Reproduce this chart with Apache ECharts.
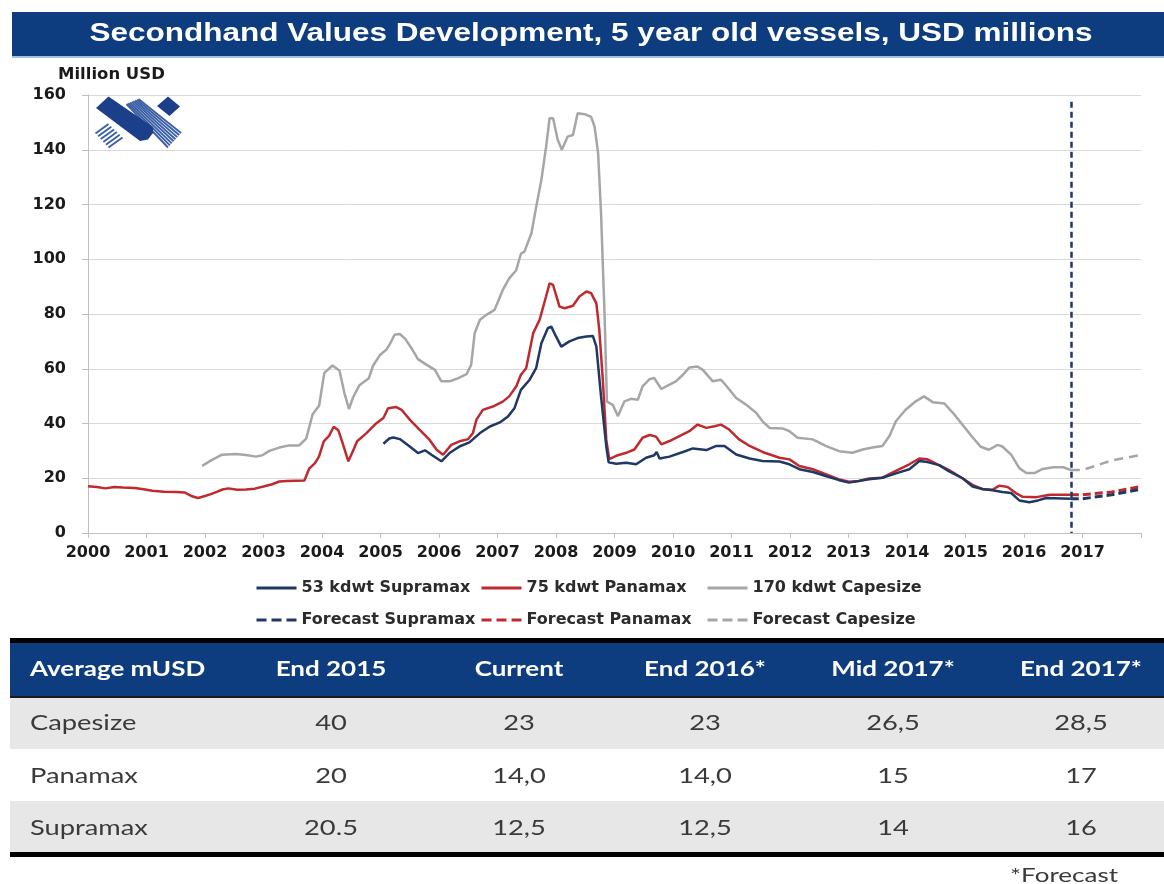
<!DOCTYPE html>
<html>
<head>
<meta charset="utf-8">
<script src="https://cdn.jsdelivr.net/npm/echarts@6/dist/echarts.min.js"></script>
<style>
  html, body { margin: 0; padding: 0; background: #ffffff; }
  #chart { width: 1164px; height: 884px; }
</style>
</head>
<body>
<div id="chart"></div>
<script>
// ---- Secondhand values, 5 year old vessels (USD millions), [year, value] ----
const capesize = [
  [2001.95,24.5],[2002.12,26.7],[2002.29,28.6],[2002.53,28.9],[2002.7,28.5],[2002.87,27.9],[2002.98,28.4],
  [2003.1,30],[2003.27,31.2],[2003.44,32],[2003.61,32],[2003.73,34.5],[2003.84,43.4],[2003.95,46.5],
  [2004.04,58.5],[2004.18,61.2],[2004.3,59.3],[2004.38,51.4],[2004.46,45.3],[2004.53,49.5],[2004.64,54],
  [2004.8,56.5],[2004.87,61],[2004.99,65],[2005.1,67],[2005.16,69],[2005.24,72.4],[2005.33,72.7],
  [2005.42,71],[2005.53,67.5],[2005.64,63.5],[2005.79,61.4],[2005.93,59.6],[2006.04,55.4],[2006.18,55.4],
  [2006.33,56.6],[2006.47,58],[2006.55,61.4],[2006.61,73],[2006.7,77.9],[2006.81,79.7],[2006.95,81.5],
  [2007.09,88.8],[2007.2,93],[2007.32,96],[2007.4,102],[2007.46,102.8],[2007.58,109.5],[2007.66,119],
  [2007.75,129],[2007.83,141],[2007.89,151.5],[2007.95,151.5],[2008.03,143.6],[2008.1,140],[2008.2,144.8],
  [2008.29,145.4],[2008.37,153.3],[2008.49,153],[2008.6,152],[2008.66,148.4],[2008.72,138.7],[2008.77,116.8],
  [2008.83,80],[2008.87,48],[2008.97,46.8],[2009.06,42.7],[2009.17,48.1],[2009.28,49],[2009.4,48.7],
  [2009.48,53.6],[2009.6,56.2],[2009.68,56.6],[2009.8,52.6],[2009.94,54.2],[2010.05,55.4],[2010.17,57.8],
  [2010.28,60.5],[2010.42,60.8],[2010.51,59.6],[2010.68,55.4],[2010.82,56],[2010.91,53.8],[2011.08,49.3],
  [2011.25,46.9],[2011.42,43.9],[2011.53,40.8],[2011.65,38.4],[2011.87,38.2],[2011.99,37.2],[2012.13,34.8],
  [2012.39,34.2],[2012.61,31.8],[2012.84,29.9],[2013.07,29.3],[2013.24,30.5],[2013.41,31.2],[2013.58,31.8],
  [2013.7,35.4],[2013.81,40.8],[2013.98,45.1],[2014.15,48.1],[2014.29,49.9],[2014.44,47.8],[2014.64,47.3],
  [2014.78,44],[2014.95,39.5],[2015.12,35],[2015.26,31.5],[2015.4,30.4],[2015.55,32.2],[2015.63,31.6],
  [2015.78,28.6],[2015.92,23.7],[2016.04,21.9],[2016.18,21.9],[2016.32,23.4],[2016.5,24],[2016.67,24],
  [2016.8,23]
];

const panamax = [
  [2000.0,17.1],[2000.15,16.8],[2000.3,16.3],[2000.45,16.8],[2000.6,16.6],[2000.8,16.4],[2000.95,16.0],
  [2001.1,15.4],[2001.3,15.1],[2001.5,15.0],[2001.65,14.8],[2001.78,13.4],[2001.88,12.8],[2002.0,13.5],
  [2002.1,14.2],[2002.2,15.0],[2002.3,15.9],[2002.4,16.3],[2002.55,15.8],[2002.7,15.9],[2002.85,16.2],
  [2003.0,17.0],[2003.15,17.8],[2003.27,18.8],[2003.4,19.0],[2003.55,19.1],[2003.7,19.2],[2003.78,23.5],
  [2003.88,25.5],[2003.95,28],[2004.03,33.5],[2004.12,35.5],[2004.2,38.8],[2004.28,37.5],[2004.35,33],
  [2004.45,26.2],[2004.52,29.5],[2004.6,33.5],[2004.76,36.5],[2004.93,40.1],[2005.05,42],[2005.13,45.6],
  [2005.27,46],[2005.36,45],[2005.5,41.4],[2005.67,37.7],[2005.84,34],[2005.96,30.4],[2006.07,28.6],
  [2006.21,32.2],[2006.35,33.5],[2006.5,34.3],[2006.58,36.5],[2006.64,41.4],[2006.75,45],[2006.92,46.2],
  [2007.09,48],[2007.2,49.9],[2007.32,53.5],[2007.4,57.8],[2007.49,60.2],[2007.61,73],[2007.72,77.9],
  [2007.83,86.4],[2007.89,91.2],[2007.95,90.6],[2008.06,82.7],[2008.15,82.1],[2008.29,83],[2008.4,86.4],
  [2008.52,88.2],[2008.6,87.6],[2008.69,83.9],[2008.74,74.2],[2008.8,56],[2008.86,34],[2008.91,27],
  [2009.03,28.2],[2009.2,29.3],[2009.34,30.5],[2009.48,34.8],[2009.6,35.8],[2009.71,35.2],[2009.8,32.4],
  [2009.94,33.6],[2010.11,35.4],[2010.28,37.2],[2010.42,39.6],[2010.57,38.4],[2010.71,39],[2010.82,39.6],
  [2010.96,37.8],[2011.13,34.2],[2011.31,31.8],[2011.53,29.6],[2011.82,27.5],[2011.99,26.9],[2012.16,24.5],
  [2012.39,23.3],[2012.61,21.5],[2012.84,19.6],[2013.01,18.7],[2013.18,19],[2013.35,19.9],[2013.58,20.2],
  [2013.81,22.7],[2014.04,25.1],[2014.21,27.2],[2014.35,26.9],[2014.52,25.1],[2014.72,23],[2014.94,20.1],
  [2015.12,17.6],[2015.29,16],[2015.46,15.8],[2015.58,17.3],[2015.72,16.8],[2015.86,14.6],[2015.98,13.2],
  [2016.21,13.1],[2016.44,14],[2016.8,14.0]
];

const supramax = [
  [2005.05,32.6],[2005.15,34.5],[2005.22,34.9],[2005.33,34.3],[2005.5,31.6],[2005.64,29.2],[2005.76,30.2],
  [2005.87,28.6],[2006.04,26.2],[2006.18,29.2],[2006.35,31.6],[2006.52,33.1],[2006.7,36.5],[2006.87,38.9],
  [2007.04,40.4],[2007.18,42.6],[2007.29,45.6],[2007.4,52.3],[2007.55,56],[2007.66,60.2],[2007.75,69.3],
  [2007.86,74.8],[2007.92,75.4],[2008.0,71.8],[2008.09,68.1],[2008.23,70],[2008.37,71.2],[2008.52,71.8],
  [2008.63,72],[2008.69,68.1],[2008.77,49.9],[2008.86,31.6],[2008.9,25.8],[2009.03,25.3],[2009.2,25.7],
  [2009.37,25.1],[2009.54,27.5],[2009.68,28.4],[2009.72,29.6],[2009.77,27.2],[2009.94,27.9],[2010.17,29.6],
  [2010.34,30.9],[2010.57,30.3],[2010.74,31.8],[2010.88,31.8],[2011.08,28.7],[2011.31,27.2],[2011.53,26.3],
  [2011.82,26.1],[2011.99,25.1],[2012.16,23.3],[2012.39,22.3],[2012.61,20.8],[2012.84,19.3],[2013.01,18.4],
  [2013.35,19.6],[2013.58,20.2],[2013.81,21.8],[2014.04,23.3],[2014.21,26.3],[2014.35,25.9],[2014.55,24.8],
  [2014.72,22.5],[2014.95,20.0],[2015.12,17],[2015.29,16.1],[2015.46,15.6],[2015.63,15],[2015.78,14.6],
  [2015.92,11.9],[2016.09,11.2],[2016.24,11.9],[2016.38,12.8],[2016.8,12.5]
];

// ---- Summary table ----
const tableHeader  = ['Average mUSD', 'End 2015', 'Current', 'End 2016*', 'Mid 2017*', 'End 2017*'];
const rowCapesize  = ['Capesize', '40',   '23',   '23',   '26,5', '28,5'];
const rowPanamax   = ['Panamax',  '20',   '14,0', '14,0', '15',   '17'];
const rowSupramax  = ['Supramax', '20.5', '12,5', '12,5', '14',   '16'];

// forecast path: Current, End 2016, Mid 2017, End 2017
const currentYear   = 2016.8;
const forecastYears = [currentYear, 2017.0, 2017.5, 2018.0];

// ---- Axes ----
const yMin = 0, yMax = 160, yStep = 20;
const xMin = 2000, xMax = 2018, xStep = 1;

const toNum = s => parseFloat(s.replace(',', '.'));
const forecastOf = row => forecastYears.map((t, i) => [t, toNum(row[i + 2])]);

const NAVY = '#1f3864', RED = '#bf2a2f', GREY = '#a6a6a6', BAND = '#0d3c7f';
const TICK_FONT = { fontFamily: 'DejaVu Sans', fontWeight: 'bold', fontSize: 16, color: '#1a1a1a' };

// ---- Logo (decorative) ----
function stripes(a1, a2, b1, b2, n, color, w) {
  const out = [];
  for (let k = 0; k < n; k++) {
    const t = n === 1 ? 0 : k / (n - 1);
    out.push({
      type: 'line', silent: true,
      shape: { x1: a1[0] + (a2[0] - a1[0]) * t, y1: a1[1] + (a2[1] - a1[1]) * t,
               x2: b1[0] + (b2[0] - b1[0]) * t, y2: b1[1] + (b2[1] - b1[1]) * t },
      style: { stroke: color, lineWidth: w }
    });
  }
  return out;
}
const LOGO = '#1c3f8a', LOGO_STRIPE = '#3a5fa6';
const logo = [
  ...stripes([126.5,104],[138.5,99],[168,147.5],[181,133], 8, LOGO_STRIPE, 1.9),
  ...stripes([108.5,124],[122.5,137.5],[95.5,133.5],[108.5,147.5], 6, LOGO_STRIPE, 1.9),
  { type: 'polygon', silent: true,
    shape: { points: [[96,108],[108.5,96.5],[153,127],[153,133],[148,139.5],[140,141]] },
    style: { fill: LOGO } },
  { type: 'polygon', silent: true,
    shape: { points: [[157,106],[168,96.5],[180,106.5],[169.5,116]] },
    style: { fill: LOGO } }
];

// ---- Table (drawn as graphics) ----
const colX = [30, 331, 519, 705, 893, 1081];
const tableFont = (bold, size) => (bold ? 'bold ' : '') + size + 'px Lato';
function tableRow(cells, yc, isHeader) {
  return cells.map((c, i) => ({
    type: 'text', silent: true, x: colX[i], y: yc, scaleX: 1.3,
    style: {
      text: c, fill: isHeader ? '#ffffff' : '#3a3a3a',
      font: tableFont(isHeader, isHeader ? 20 : 21),
      textAlign: i === 0 ? 'left' : 'center', textVerticalAlign: 'middle'
    }
  }));
}
const table = [
  { type: 'rect', silent: true, shape: { x: 10, y: 638, width: 1154, height: 5 }, style: { fill: '#000' } },
  { type: 'rect', silent: true, shape: { x: 10, y: 643, width: 1154, height: 54 }, style: { fill: BAND } },
  { type: 'rect', silent: true, shape: { x: 10, y: 696, width: 1154, height: 2 }, style: { fill: '#1a1a1a' } },
  { type: 'rect', silent: true, shape: { x: 10, y: 698, width: 1154, height: 51 }, style: { fill: '#e7e7e7' } },
  { type: 'rect', silent: true, shape: { x: 10, y: 749, width: 1154, height: 52 }, style: { fill: '#ffffff' } },
  { type: 'rect', silent: true, shape: { x: 10, y: 801, width: 1154, height: 51 }, style: { fill: '#e7e7e7' } },
  { type: 'rect', silent: true, shape: { x: 10, y: 852, width: 1154, height: 5 }, style: { fill: '#000' } },
  ...tableRow(tableHeader, 670, true),
  ...tableRow(rowCapesize, 723, false),
  ...tableRow(rowPanamax, 776, false),
  ...tableRow(rowSupramax, 828, false),
  { type: 'text', silent: true, x: 1118, y: 876, scaleX: 1.3,
    style: { text: '*Forecast', fill: '#3a3a3a', font: tableFont(false, 20),
             textAlign: 'right', textVerticalAlign: 'middle' } }
];

// ---- Title bar ----
const titleBar = [
  { type: 'rect', silent: true, shape: { x: 12, y: 12, width: 1152, height: 44 }, style: { fill: BAND } },
  { type: 'rect', silent: true, shape: { x: 12, y: 56, width: 1152, height: 2 }, style: { fill: '#9dc3e6' } },
  { type: 'text', silent: true, x: 591, y: 34, scaleX: 1.26,
    style: { text: 'Secondhand Values Development, 5 year old vessels, USD millions',
             fill: '#ffffff', font: 'bold 25px "Liberation Sans"',
             textAlign: 'center', textVerticalAlign: 'middle' } },
  { type: 'text', silent: true, x: 58, y: 75, scaleX: 1.1,
    style: { text: 'Million USD', fill: '#1a1a1a', font: 'bold 15px "DejaVu Sans"',
             textAlign: 'left', textVerticalAlign: 'middle' } }
];

const legendText = { fontFamily: 'DejaVu Sans', fontWeight: 'bold', fontSize: 16, color: '#2b2b2b' };
const mkLegend = (name, left, top, dashed) => ({
  data: [name], left, top, padding: 0, itemWidth: 40, itemHeight: 10, itemGap: 0,
  textStyle: legendText, selectedMode: false,
  lineStyle: { width: 3, type: dashed ? [10, 5] : 'solid' },
  // line-only key: the marker in the middle of the key is made invisible
  itemStyle: { color: 'rgba(0,0,0,0)', borderColor: 'rgba(0,0,0,0)', borderWidth: 0, opacity: 0 }
});

const lineSeries = (name, data, color, width, dash, z) => ({
  name, type: 'line', data, symbol: 'none', smooth: false, z,
  lineStyle: { color, width, type: dash || 'solid' },
  itemStyle: { color },
  emphasis: { disabled: true }
});

const chart = echarts.init(document.getElementById('chart'), null, { renderer: 'canvas' });
chart.setOption({
  animation: false,
  backgroundColor: '#ffffff',
  grid: { left: 88, right: 23, top: 95, bottom: 351, containLabel: false },
  xAxis: {
    type: 'value', min: xMin, max: xMax, interval: xStep,
    axisLine: { show: true, lineStyle: { color: '#bfbfbf', width: 1 } },
    axisTick: { show: true, length: 5, lineStyle: { color: '#bfbfbf' } },
    splitLine: { show: false },
    axisLabel: { ...TICK_FONT, margin: 12, formatter: v => (v === xMax ? '' : String(v)) }
  },
  yAxis: {
    type: 'value', min: yMin, max: yMax, interval: yStep,
    axisLine: { show: true, lineStyle: { color: '#bfbfbf', width: 1 } },
    axisTick: { show: true, length: 6, lineStyle: { color: '#bfbfbf' } },
    splitLine: { show: true, lineStyle: { color: '#d9d9d9', width: 1 } },
    axisLabel: { ...TICK_FONT, margin: 22 }
  },
  legend: [
    mkLegend('53 kdwt Supramax', 255, 580, false),
    mkLegend('75 kdwt Panamax', 480, 580, false),
    mkLegend('170 kdwt Capesize', 706, 580, false),
    mkLegend('Forecast Supramax', 255, 612, true),
    mkLegend('Forecast Panamax', 480, 612, true),
    mkLegend('Forecast Capesize', 706, 612, true)
  ],
  graphic: { elements: [...titleBar, ...logo, ...table] },
  series: [
    lineSeries('170 kdwt Capesize', capesize, GREY, 2.5, null, 2),
    lineSeries('75 kdwt Panamax', panamax, RED, 2.5, null, 3),
    lineSeries('53 kdwt Supramax', supramax, NAVY, 2.5, null, 4),
    lineSeries('Forecast Capesize', forecastOf(rowCapesize), GREY, 2.5, [9, 6], 2),
    lineSeries('Forecast Panamax', forecastOf(rowPanamax), RED, 3, [8, 4], 3),
    Object.assign(lineSeries('Forecast Supramax', forecastOf(rowSupramax), NAVY, 3, [8, 4], 4), {
      markLine: {
        silent: true, symbol: 'none', label: { show: false },
        lineStyle: { color: NAVY, width: 2.5, type: [6, 4] },
        data: [[{ coord: [currentYear, 157.5] }, { coord: [currentYear, 0] }]]
      }
    })
  ]
});
</script>
</body>
</html>
